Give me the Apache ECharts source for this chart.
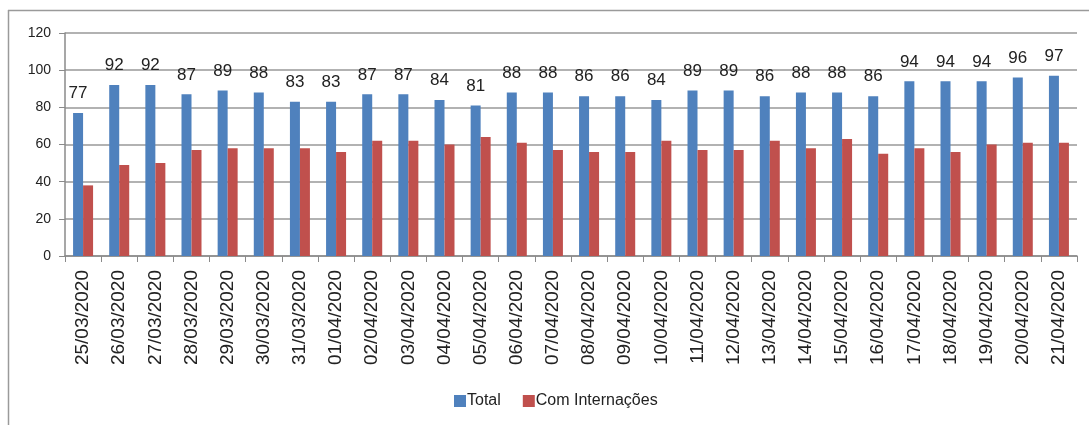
<!DOCTYPE html>
<html>
<head>
<meta charset="utf-8">
<script src="https://cdn.jsdelivr.net/npm/echarts@6/dist/echarts.min.js"></script>
<style>html,body{margin:0;padding:0;background:#fff;}#c{width:1089px;height:425px;}</style>
</head>
<body>
<div id="c"></div>
<script>
const categories = ["25/03/2020","26/03/2020","27/03/2020","28/03/2020","29/03/2020","30/03/2020","31/03/2020","01/04/2020","02/04/2020","03/04/2020","04/04/2020","05/04/2020","06/04/2020","07/04/2020","08/04/2020","09/04/2020","10/04/2020","11/04/2020","12/04/2020","13/04/2020","14/04/2020","15/04/2020","16/04/2020","17/04/2020","18/04/2020","19/04/2020","20/04/2020","21/04/2020"];
const total = [77,92,92,87,89,88,83,83,87,87,84,81,88,88,86,86,84,89,89,86,88,88,86,94,94,94,96,97];
const internacoes = [38,49,50,57,58,58,58,56,62,62,60,64,61,57,56,56,62,57,57,62,58,63,55,58,56,60,61,61];
const yTicks = [0,20,40,60,80,100,120];

const FONT = "Liberation Sans";
const chart = echarts.init(document.getElementById('c'));
chart.setOption({
  animation: false,
  backgroundColor: '#fff',
  textStyle: {fontFamily: FONT},
  graphic: [
    {type:'line', shape:{x1:8,y1:10.5,x2:1089,y2:10.5}, style:{stroke:'#9a9a9a',lineWidth:1.5}},
    {type:'line', shape:{x1:8.5,y1:10,x2:8.5,y2:425}, style:{stroke:'#9a9a9a',lineWidth:1.5}}
  ],
  grid: {left: 65, right: 12, top: 33, bottom: 169, containLabel: false},
  legend: {
    top: 388, left: 449,
    itemWidth: 12, itemHeight: 12, itemGap: 22,
    icon: 'rect',
    textStyle: {fontFamily: FONT, fontSize: 16, color: '#222', padding:[0,0,0,-4]},
    data: ['Total','Com Internações']
  },
  xAxis: {
    type: 'category',
    data: categories,
    axisLine: {lineStyle: {color: '#8a8a8a', width: 1.5}},
    axisTick: {show: true, length: 6, lineStyle: {color: '#8a8a8a'}},
    axisLabel: {rotate: 90, margin: 14, fontSize: 19, color: '#222', fontFamily: FONT, interval: 0}
  },
  yAxis: {
    type: 'value', min: yTicks[0], max: yTicks[yTicks.length-1], interval: 20,
    axisLine: {show: true, lineStyle: {color: '#8a8a8a', width: 1.5}},
    axisTick: {show: true, length: 6, lineStyle: {color: '#8a8a8a'}},
    splitLine: {lineStyle: {color: '#999', width: 1.5}},
    axisLabel: {fontSize: 14, color: '#222', margin: 14, fontFamily: FONT}
  },
  series: [
    {name: 'Total', type: 'bar', data: total, barWidth: 10, barGap: '0%',
     itemStyle: {color: '#4f81bd'},
     label: {show: true, position: 'top', distance: 11, fontSize: 17, color: '#222', fontFamily: FONT}},
    {name: 'Com Internações', type: 'bar', data: internacoes, barWidth: 10, barGap: '0%',
     itemStyle: {color: '#c0504d'}}
  ]
});
</script>
</body>
</html>
